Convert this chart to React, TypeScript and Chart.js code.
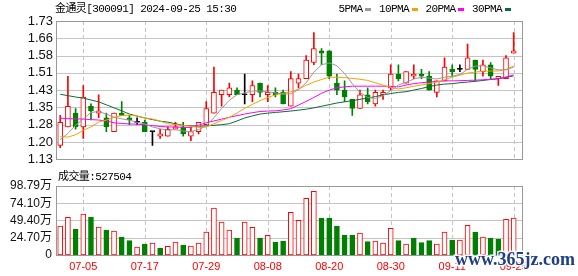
import React, { useEffect, useRef } from 'react';
import { Chart, registerables } from 'chart.js';

Chart.register(...registerables);

// ---------- data ----------
const stockName = '金通灵';
const stockCode = '300091';
const stamp = '2024-09-25 15:30';

const dates = [
  '07-02','07-03','07-04','07-05','07-08','07-09','07-10','07-11','07-12','07-15',
  '07-16','07-17','07-18','07-19','07-22','07-23','07-24','07-25','07-26','07-29',
  '07-30','07-31','08-01','08-02','08-05','08-06','08-07','08-08','08-09','08-12',
  '08-13','08-14','08-15','08-16','08-19','08-20','08-21','08-22','08-23','08-26',
  '08-27','08-28','08-29','08-30','09-02','09-03','09-04','09-05','09-06','09-09',
  '09-10','09-11','09-12','09-13','09-18','09-19','09-20','09-23','09-24','09-25',
];
const xTickDates = ['07-05','07-17','07-29','08-08','08-20','08-30','09-11','09-25'];

const opens = [
  1.19,1.27,1.33,1.27,1.36,1.33,1.31,1.25,1.33,1.31,
  1.29,1.29,1.25,1.23,1.23,1.26,1.27,1.23,1.25,1.28,
  1.33,1.41,1.41,1.43,1.41,1.41,1.46,1.41,1.42,1.42,
  1.36,1.46,1.48,1.55,1.60,1.60,1.46,1.43,1.39,1.35,
  1.41,1.37,1.41,1.44,1.50,1.46,1.49,1.50,1.49,1.42,
  1.47,1.52,1.52,1.52,1.56,1.51,1.54,1.48,1.48,1.59,
];
const highs = [
  1.32,1.49,1.35,1.45,1.37,1.41,1.33,1.33,1.38,1.32,
  1.31,1.30,1.25,1.26,1.27,1.29,1.29,1.27,1.29,1.38,
  1.53,1.43,1.46,1.44,1.50,1.47,1.46,1.45,1.44,1.43,
  1.51,1.50,1.58,1.68,1.61,1.60,1.50,1.47,1.39,1.43,
  1.44,1.43,1.43,1.54,1.54,1.51,1.54,1.52,1.51,1.47,
  1.57,1.54,1.54,1.63,1.56,1.56,1.55,1.49,1.58,1.68,
];
const lows = [
  1.18,1.27,1.26,1.22,1.30,1.31,1.25,1.25,1.32,1.28,
  1.28,1.25,1.19,1.22,1.23,1.26,1.23,1.21,1.24,1.28,
  1.33,1.36,1.40,1.41,1.37,1.38,1.40,1.38,1.40,1.37,
  1.36,1.44,1.48,1.54,1.54,1.48,1.41,1.38,1.32,1.35,
  1.37,1.36,1.39,1.43,1.47,1.46,1.48,1.48,1.43,1.40,
  1.47,1.49,1.51,1.52,1.47,1.49,1.48,1.45,1.48,1.59,
];
const closes = [
  1.29,1.36,1.27,1.40,1.34,1.34,1.27,1.33,1.32,1.30,
  1.29,1.25,1.25,1.24,1.26,1.27,1.24,1.25,1.29,1.35,
  1.42,1.43,1.44,1.41,1.41,1.45,1.42,1.42,1.41,1.37,
  1.48,1.48,1.56,1.61,1.59,1.49,1.43,1.40,1.35,1.41,
  1.38,1.42,1.42,1.50,1.48,1.51,1.50,1.49,1.43,1.47,
  1.53,1.51,1.52,1.57,1.52,1.54,1.49,1.49,1.57,1.60,
];

const ma5 = [
  1.215,1.242,1.277,1.305,1.333,1.337,1.326,1.312,1.305,1.300,
  1.290,1.283,1.270,1.262,1.256,1.258,1.252,1.250,1.258,1.275,
  1.310,1.350,1.386,1.410,1.418,1.426,1.426,1.422,1.418,1.412,
  1.414,1.432,1.462,1.508,1.540,1.548,1.536,1.502,1.458,1.420,
  1.398,1.394,1.406,1.428,1.452,1.464,1.478,1.486,1.482,1.478,
  1.486,1.490,1.498,1.520,1.534,1.536,1.526,1.518,1.518,1.530,
];
const ma10 = [
  1.228,1.226,1.236,1.256,1.270,1.291,1.300,1.312,1.319,1.321,
  1.318,1.309,1.305,1.295,1.284,1.280,1.277,1.273,1.268,1.270,
  1.284,1.298,1.312,1.330,1.351,1.368,1.384,1.398,1.409,1.416,
  1.423,1.434,1.451,1.465,1.476,1.486,1.486,1.484,1.481,1.477,
  1.472,1.462,1.451,1.442,1.435,1.440,1.447,1.452,1.458,1.465,
  1.475,1.486,1.495,1.504,1.508,1.512,1.513,1.513,1.520,1.534,
];
const ma20 = [
  1.308,1.306,1.305,1.304,1.302,1.300,1.296,1.288,1.285,1.283,
  1.282,1.279,1.276,1.272,1.270,1.270,1.268,1.268,1.278,1.288,
  1.296,1.304,1.312,1.319,1.326,1.332,1.337,1.339,1.340,1.344,
  1.349,1.365,1.381,1.398,1.416,1.430,1.440,1.444,1.447,1.447,
  1.447,1.447,1.447,1.446,1.444,1.452,1.458,1.462,1.465,1.467,
  1.470,1.470,1.471,1.472,1.473,1.475,1.477,1.480,1.487,1.496,
];
const ma30 = [
  1.412,1.406,1.400,1.395,1.387,1.379,1.366,1.353,1.340,1.326,
  1.317,1.309,1.302,1.295,1.291,1.284,1.277,1.275,1.273,1.275,
  1.277,1.280,1.284,1.296,1.309,1.318,1.326,1.330,1.333,1.336,
  1.339,1.343,1.347,1.353,1.360,1.367,1.374,1.379,1.384,1.390,
  1.395,1.402,1.409,1.415,1.420,1.423,1.430,1.437,1.445,1.452,
  1.456,1.458,1.462,1.465,1.468,1.472,1.476,1.479,1.485,1.492,
];

const volumes = [
  415000,539000,372000,587000,544000,401000,358000,344000,258000,205000,
  115000,157000,172000,100000,124000,186000,143000,129000,172000,329000,
  673000,472000,358000,243000,472000,396000,243000,282000,186000,200000,
  611000,496000,811000,912000,530000,530000,415000,286000,286000,315000,
  191000,200000,172000,382000,205000,157000,243000,177000,205000,157000,
  329000,215000,215000,425000,329000,258000,243000,229000,511000,527504,
];
// 1 = red (up) volume bar, 0 = green (down) volume bar
const volumeUp = [
  1,1,0,1,0,1,0,1,0,0,
  1,0,1,0,1,1,0,1,1,1,
  1,1,1,0,1,1,0,1,0,0,
  1,1,1,1,0,0,0,0,0,1,
  0,1,1,1,0,1,0,0,0,1,
  1,0,1,1,0,1,0,0,1,1,
];

const priceMin = 1.13;
const priceMax = 1.73;
const priceTickLabels = ['1.13','1.20','1.28','1.35','1.43','1.51','1.58','1.66','1.73'];
const volumeTicks = [0, 247000, 494000, 741000, 987900];

const maNames = ['5PMA', '10PMA', '20PMA', '30PMA'];
const maSeries = [ma5, ma10, ma20, ma30];

// ---------- styles ----------
const RED = '#ff0000';
const GREEN = '#008000';
const BLACK = '#000000';
const maColors = ['#999999', '#f5a300', '#ff00ff', '#0b6b36'];
const GRID = '#c4c4c4';
const FRAME = '#999999';
const X_MIN = -0.55;
const X_MAX = 60.08;
const MONO = "11px 'Liberation Mono', 'Noto Sans CJK SC', monospace";

const gridIdx = xTickDates.map((d) => dates.indexOf(d));

const candleColor = (i: number) =>
  closes[i] > opens[i] ? RED : closes[i] < opens[i] ? GREEN : BLACK;

// grid lines computed from the chart's own scales, painted on a canvas layer under the chart
const makeGridPlugin = (bg: HTMLCanvasElement) => ({
  id: 'gridUnder',
  afterDraw(chart: any) {
    const g = bg.getContext('2d');
    if (!g) return;
    const { left, right, top, bottom } = chart.chartArea;
    const xs = chart.scales.x;
    const ys = chart.scales.y;
    g.clearRect(0, 0, bg.width, bg.height);
    g.fillStyle = '#ffffff';
    g.fillRect(0, 0, bg.width, bg.height);
    g.fillStyle = GRID;
    const l = Math.round(left);
    const w = Math.round(right - left);
    ys.ticks.forEach((t: any) => {
      const py = Math.round(ys.getPixelForValue(t.value));
      g.fillRect(l, py, w, 1);
    });
    const t0 = Math.round(top);
    const b0 = Math.round(bottom);
    xs.ticks.forEach((t: any) => {
      const px = Math.round(xs.getPixelForValue(t.value));
      for (let y = t0; y < b0; y += 7) {
        g.fillRect(px, y, 1, Math.min(4, b0 - y));
      }
    });
  },
});

const framePlugin = {
  id: 'frame',
  afterDraw(chart: any) {
    const { left, top, right, bottom } = chart.chartArea;
    const ctx = chart.ctx;
    ctx.save();
    ctx.strokeStyle = FRAME;
    ctx.lineWidth = 1;
    ctx.setLineDash([]);
    ctx.strokeRect(Math.round(left) + 0.5, Math.round(top) + 0.5, Math.round(right - left), Math.round(bottom - top));
    ctx.restore();
  },
};

const setSpacing = (ctx: any, v: string) => {
  if ('letterSpacing' in ctx) ctx.letterSpacing = v;
};

const headerPlugin = {
  id: 'header',
  afterDraw(chart: any) {
    const ctx = chart.ctx;
    ctx.save();
    ctx.textBaseline = 'middle';
    ctx.textAlign = 'left';
    ctx.font = MONO;
    setSpacing(ctx, '-0.6px');
    ctx.fillStyle = '#000';
    ctx.fillText(`${stockName}[${stockCode}] ${stamp}`, 55, 9);
    let x = 338.5;
    maNames.forEach((name, k) => {
      ctx.fillStyle = '#000';
      ctx.fillText(name, x, 9);
      x += ctx.measureText(name).width + 2.5;
      ctx.fillStyle = maColors[k];
      ctx.fillRect(Math.round(x), 8, 6, 3);
      x += 6 + 8;
    });
    setSpacing(ctx, '0px');
    ctx.restore();
  },
};

const volHeaderPlugin = {
  id: 'volHeader',
  afterDraw(chart: any) {
    const ctx = chart.ctx;
    ctx.save();
    ctx.textBaseline = 'middle';
    ctx.textAlign = 'left';
    ctx.font = MONO;
    setSpacing(ctx, '-0.6px');
    ctx.fillStyle = '#000';
    ctx.fillText(`成交量:${volumes[volumes.length - 1]}`, 58, 7);
    setSpacing(ctx, '0px');
    // site watermark
    ctx.font = "bold 18px 'Liberation Serif', serif";
    ctx.textBaseline = 'alphabetic';
    ctx.lineWidth = 3;
    ctx.strokeStyle = 'rgba(255,255,255,0.9)';
    ctx.strokeText('www.365jz.com', 455, 95);
    ctx.fillStyle = '#1d3f86';
    ctx.fillText('www.365jz.com', 455, 95);
    ctx.restore();
  },
};

const xScaleBase = (showLabels: boolean, height: number) => ({
  type: 'linear' as const,
  min: X_MIN,
  max: X_MAX,
  offset: false,
  afterBuildTicks: (s: any) => {
    s.ticks = gridIdx.map((v) => ({ value: v }));
  },
  afterFit: (s: any) => {
    s.height = height;
  },
  ticks: {
    display: showLabels,
    autoSkip: false,
    maxRotation: 0,
    padding: 5,
    color: RED,
    font: { family: "'Liberation Sans', Arial, sans-serif", size: 11 },
    callback: (v: any) => dates[Math.round(Number(v))] ?? '',
  },
  grid: { display: false, offset: false, drawTicks: false },
  border: { display: false },
});

export default function App() {
  const priceRef = useRef<HTMLCanvasElement | null>(null);
  const volRef = useRef<HTMLCanvasElement | null>(null);
  const priceBgRef = useRef<HTMLCanvasElement | null>(null);
  const volBgRef = useRef<HTMLCanvasElement | null>(null);

  useEffect(() => {
    if (!priceRef.current || !volRef.current || !priceBgRef.current || !volBgRef.current) return;

    const idx = dates.map((_, i) => i);
    const bodyColors = idx.map(candleColor);
    const bodyFills = idx.map((i) => (closes[i] > opens[i] ? '#ffffff' : candleColor(i)));

    const priceStep = (priceMax - priceMin) / (priceTickLabels.length - 1);

    const priceChart = new Chart(priceRef.current, {
      type: 'bar',
      data: {
        datasets: [
          ...maSeries.map((s, k) => ({
            type: 'line' as const,
            label: maNames[k],
            data: s.map((y, i) => ({ x: i, y })),
            borderColor: maColors[k],
            backgroundColor: maColors[k],
            borderWidth: 1,
            pointRadius: 0,
            tension: 0,
            fill: false,
            order: 0,
          })),
          {
            type: 'bar' as const,
            label: 'body',
            data: idx.map((i) => ({ x: i, y: [opens[i], closes[i]] })),
            backgroundColor: bodyFills,
            borderColor: bodyColors,
            borderWidth: 1,
            borderSkipped: false,
            barThickness: 5,
            minBarLength: 1,
            grouped: false,
            order: 2,
          },
          {
            type: 'bar' as const,
            label: 'wick',
            data: idx.map((i) => ({ x: i, y: [lows[i], highs[i]] })),
            backgroundColor: bodyColors,
            borderWidth: 0,
            barThickness: 1,
            grouped: false,
            order: 3,
          },
        ] as any,
      },
      options: {
        animation: false,
        responsive: false,
        maintainAspectRatio: false,
        events: [],
        layout: { padding: { left: 0, right: 56, top: 21, bottom: 5 } },
        plugins: { legend: { display: false }, tooltip: { enabled: false }, title: { display: false } },
        scales: {
          x: xScaleBase(false, 0) as any,
          y: {
            min: priceMin,
            max: priceMax,
            afterBuildTicks: (s: any) => {
              s.ticks = priceTickLabels.map((_, k) => ({ value: priceMin + k * priceStep }));
            },
            afterFit: (s: any) => {
              s.width = 56;
            },
            ticks: {
              autoSkip: false,
              padding: 3,
              color: '#111',
              font: { family: "'Liberation Sans', Arial, sans-serif", size: 13 },
              callback: (_v: any, k: number) => priceTickLabels[k],
            },
            grid: { display: false, drawTicks: false },
            border: { display: false },
          },
        },
      },
      plugins: [makeGridPlugin(priceBgRef.current), framePlugin, headerPlugin],
    });

    const volChart = new Chart(volRef.current, {
      type: 'bar',
      data: {
        datasets: [
          {
            label: 'volume',
            data: idx.map((i) => ({ x: i, y: volumes[i] })),
            backgroundColor: idx.map((i) => (volumeUp[i] ? '#ffffff' : GREEN)),
            borderColor: idx.map((i) => (volumeUp[i] ? RED : GREEN)),
            borderWidth: 1,
            borderSkipped: false,
            barThickness: 5,
            grouped: false,
          },
        ] as any,
      },
      options: {
        animation: false,
        responsive: false,
        maintainAspectRatio: false,
        events: [],
        layout: { padding: { left: 0, right: 56, top: 16, bottom: 0 } },
        plugins: { legend: { display: false }, tooltip: { enabled: false }, title: { display: false } },
        scales: {
          x: xScaleBase(true, 21) as any,
          y: {
            min: 0,
            max: volumeTicks[volumeTicks.length - 1],
            afterBuildTicks: (s: any) => {
              s.ticks = volumeTicks.map((v) => ({ value: v }));
            },
            afterFit: (s: any) => {
              s.width = 56;
            },
            ticks: {
              autoSkip: false,
              padding: 4,
              color: '#111',
              font: { family: "'Liberation Sans', 'Noto Sans CJK SC', Arial, sans-serif", size: 12 },
              callback: (v: any) => (Number(v) === 0 ? '0' : (Number(v) / 10000).toFixed(2) + '万'),
            },
            grid: { display: false, drawTicks: false },
            border: { display: false },
          },
        },
      },
      plugins: [makeGridPlugin(volBgRef.current), framePlugin, volHeaderPlugin],
    });

    return () => {
      priceChart.destroy();
      volChart.destroy();
    };
  }, []);

  const layer = (top: number, height: number, z: number) => ({
    position: 'absolute' as const,
    left: 0,
    top,
    width: 578,
    height,
    zIndex: z,
  });

  return (
    <div style={{ position: 'absolute', left: 0, top: 0, width: 578, height: 276, background: '#fff' }}>
      <canvas ref={priceBgRef} width={578} height={170} style={layer(0, 170, 0)} />
      <canvas ref={volBgRef} width={578} height={106} style={layer(170, 106, 0)} />
      <canvas ref={priceRef} width={578} height={170} style={layer(0, 170, 1)} />
      <canvas ref={volRef} width={578} height={106} style={layer(170, 106, 1)} />
    </div>
  );
}
